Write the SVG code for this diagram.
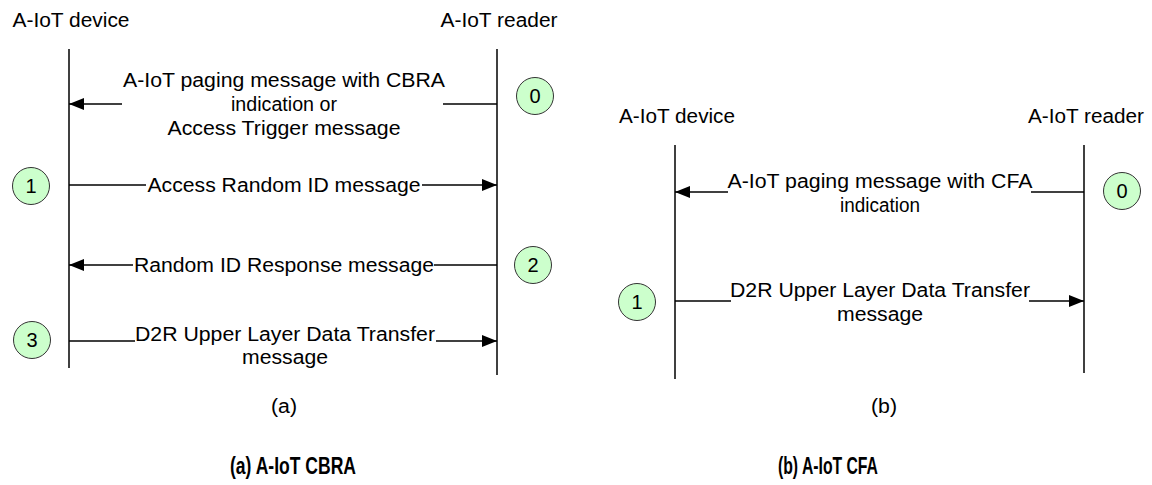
<svg xmlns="http://www.w3.org/2000/svg" width="1152" height="485" viewBox="0 0 1152 485">
<style>
  .t { font-family: "Liberation Sans", Arial, sans-serif; font-size: 20px; fill: #000; text-anchor: middle; }
  .cap { font-family: "Liberation Sans", Arial, sans-serif; font-size: 23px; font-weight: bold; fill: #000; text-anchor: middle; }
  .life { stroke: #000; stroke-width: 1.5; fill: none; }
  .msg { stroke: #000; stroke-width: 1.5; fill: none; }
  .step { fill: #ccffcc; stroke: #333; stroke-width: 1; }
</style>
<defs>
  <marker id="ah" viewBox="0 0 15 12" refX="15" refY="6" markerWidth="15" markerHeight="12" markerUnits="userSpaceOnUse" orient="auto">
    <path d="M0,0 L15,6 L0,12 Z" fill="#000"/>
  </marker>
</defs>
<rect width="1152" height="485" fill="#fff"/>

<!-- Diagram (a) -->
<g id="a-device">
  <text class="t" x="71" y="27" textLength="117" lengthAdjust="spacingAndGlyphs">A-IoT device</text>
  <line class="life" x1="69" y1="49" x2="69" y2="368"/>
</g>
<g id="a-reader">
  <text class="t" x="499" y="27" textLength="117" lengthAdjust="spacingAndGlyphs">A-IoT reader</text>
  <line class="life" x1="497" y1="49" x2="497" y2="375"/>
</g>
<g id="a-step0">
  <circle class="step" cx="535" cy="96" r="18.5"/>
  <text class="t" x="535" y="103">0</text>
</g>
<g id="a-step1">
  <circle class="step" cx="31" cy="186" r="18.5"/>
  <text class="t" x="31" y="193">1</text>
</g>
<g id="a-step2">
  <circle class="step" cx="533" cy="265" r="18.5"/>
  <text class="t" x="533" y="272">2</text>
</g>
<g id="a-step3">
  <circle class="step" cx="32" cy="340" r="18.5"/>
  <text class="t" x="32" y="347">3</text>
</g>
<g id="a-labels">
  <text class="t" x="284" y="87" textLength="322" lengthAdjust="spacingAndGlyphs">A-IoT paging message with CBRA</text>
  <text class="t" x="284" y="111" textLength="106" lengthAdjust="spacingAndGlyphs">indication or</text>
  <text class="t" x="284" y="135" textLength="233" lengthAdjust="spacingAndGlyphs">Access Trigger message</text>
  <text class="t" x="284" y="192" textLength="273" lengthAdjust="spacingAndGlyphs">Access Random ID message</text>
  <text class="t" x="284" y="272" textLength="300" lengthAdjust="spacingAndGlyphs">Random ID Response message</text>
  <text class="t" x="285" y="341" textLength="300" lengthAdjust="spacingAndGlyphs">D2R Upper Layer Data Transfer</text>
  <text class="t" x="285" y="364" textLength="86" lengthAdjust="spacingAndGlyphs">message</text>
  <text class="t" x="284" y="413" textLength="26" lengthAdjust="spacingAndGlyphs">(a)</text>
</g>

<!-- Diagram (b) -->
<g id="b-device">
  <text class="t" x="677" y="123" textLength="116" lengthAdjust="spacingAndGlyphs">A-IoT device</text>
  <line class="life" x1="675" y1="145" x2="675" y2="379"/>
</g>
<g id="b-reader">
  <text class="t" x="1086" y="123" textLength="116" lengthAdjust="spacingAndGlyphs">A-IoT reader</text>
  <line class="life" x1="1084" y1="145" x2="1084" y2="373"/>
</g>
<g id="b-step0">
  <circle class="step" cx="1122" cy="191" r="18.5"/>
  <text class="t" x="1122" y="198">0</text>
</g>
<g id="b-step1">
  <circle class="step" cx="637" cy="302" r="18.5"/>
  <text class="t" x="637" y="309">1</text>
</g>
<g id="b-labels">
  <text class="t" x="880" y="188" textLength="305" lengthAdjust="spacingAndGlyphs">A-IoT paging message with CFA</text>
  <text class="t" x="880" y="212" textLength="80" lengthAdjust="spacingAndGlyphs">indication</text>
  <text class="t" x="880" y="297" textLength="300" lengthAdjust="spacingAndGlyphs">D2R Upper Layer Data Transfer</text>
  <text class="t" x="880" y="321" textLength="86" lengthAdjust="spacingAndGlyphs">message</text>
  <text class="t" x="884" y="413" textLength="26" lengthAdjust="spacingAndGlyphs">(b)</text>
</g>

<!-- Connectors -->
<g id="connectors">
  <line class="msg" x1="497" y1="104" x2="443" y2="104"/>
  <line class="msg" x1="122" y1="104" x2="69" y2="104" marker-end="url(#ah)"/>
  <line class="msg" x1="69" y1="185" x2="146" y2="185"/>
  <line class="msg" x1="422" y1="185" x2="497" y2="185" marker-end="url(#ah)"/>
  <line class="msg" x1="497" y1="265" x2="434" y2="265"/>
  <line class="msg" x1="133" y1="265" x2="69" y2="265" marker-end="url(#ah)"/>
  <line class="msg" x1="69" y1="341" x2="135" y2="341"/>
  <line class="msg" x1="436" y1="341" x2="497" y2="341" marker-end="url(#ah)"/>

  <line class="msg" x1="1084" y1="192" x2="1031" y2="192"/>
  <line class="msg" x1="728" y1="192" x2="675" y2="192" marker-end="url(#ah)"/>
  <line class="msg" x1="675" y1="301" x2="731" y2="301"/>
  <line class="msg" x1="1029" y1="301" x2="1084" y2="301" marker-end="url(#ah)"/>
</g>

<!-- Captions -->
<g id="captions">
  <text class="cap" x="293" y="474" textLength="126" lengthAdjust="spacingAndGlyphs">(a) A-IoT CBRA</text>
  <text class="cap" x="828" y="474" textLength="100" lengthAdjust="spacingAndGlyphs">(b) A-IoT CFA</text>
</g>
</svg>
